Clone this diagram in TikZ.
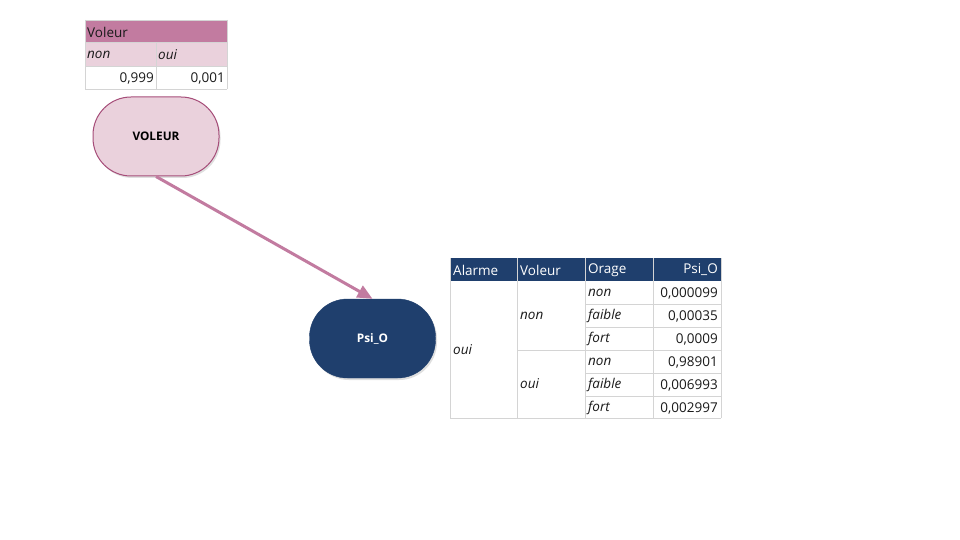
\documentclass[tikz,border=0pt]{standalone}
\usepackage{fontspec}
\setmainfont{Open Sans}
\usetikzlibrary{arrows.meta,shadows}
\definecolor{pinkhead}{HTML}{C27BA0}
\definecolor{pinklight}{HTML}{EAD1DC}
\definecolor{pinkborder}{HTML}{A64D79}
\definecolor{darkblue}{HTML}{1F3F6D}
\definecolor{gridgray}{HTML}{D4D4D4}
\definecolor{txt}{HTML}{1A1A1A}
\tikzset{
  cell/.style={text=txt,font=\fontsize{13.5}{15}\selectfont,inner sep=0pt},
  cellR/.style={cell,anchor=east},
  cellL/.style={cell,anchor=west},
  hcell/.style={cell,text=white},
  grid/.style={draw=gridgray,line width=0.8pt},
  bnode/.style={minimum width=126pt,minimum height=79pt,rounded corners=38pt,
    font=\fontsize{11.8}{13}\selectfont\bfseries,
    drop shadow={shadow xshift=1.5pt,shadow yshift=-2pt,opacity=0.25}},
}
\begin{document}
\begin{tikzpicture}[x=1pt,y=-1pt]
\useasboundingbox (0,0) rectangle (960,540);
\fill[white] (0,0) rectangle (960,540);
% ---- Voleur table ----
\fill[pinkhead] (85,20) rectangle (227,42);
\fill[pinklight] (85,42) rectangle (227,66);
\draw[grid] (85,20) -- (227,20);
\draw[grid] (85,42) -- (227,42);
\draw[grid] (85,66) -- (227,66);
\draw[grid] (85,89) -- (227,89);
\draw[grid] (85,20) -- (85,89);
\draw[grid] (227,20) -- (227,89);
\draw[grid] (156,42) -- (156,89);
\node[cellL] (vh) at (87,32) {Voleur};
\node[cellL] (vnon) at (87,55) {\itshape non};
\node[cellL] (voui) at (158,55) {\itshape oui};
\node[cellR] (v1) at (154,78) {0,999};
\node[cellR] (v2) at (225,78) {0,001};
% ---- nodes ----
\node[bnode,fill=pinklight,draw=pinkborder,line width=1pt,text=black] (v) at (156,136.5) {VOLEUR};
\node[bnode,fill=darkblue,draw=darkblue,text=white] (p) at (372.5,338.5) {Psi\_O};
\draw[pinkhead,line width=3pt,-{Triangle[length=15pt,width=13pt]}] (v.south) -- (p.north);
% ---- Psi_O table ----
\fill[darkblue] (450,258) rectangle (721,281);
\draw[grid] (517,258) -- (517,418);
\draw[grid] (585,258) -- (585,418);
\draw[grid] (653,258) -- (653,418);
\draw[grid] (450,258) -- (450,418);
\draw[grid] (721,258) -- (721,418);
\draw[grid] (450,418) -- (721,418);
\draw[grid] (517,350) -- (721,350);
\foreach \y in {304,327,373,396} \draw[grid] (585,\y) -- (721,\y);
\node[hcell,anchor=west] (h1) at (453,270) {Alarme};
\node[hcell,anchor=west] (h2) at (520,270) {Voleur};
\node[hcell,anchor=west] (h3) at (588,270) {Orage};
\node[hcell,anchor=east] (h4) at (718,270) {Psi\_O};
\node[cellL] (a1) at (453,350) {\itshape oui};
\node[cellL] (b1) at (520,316) {\itshape non};
\node[cellL] (b2) at (520,384) {\itshape oui};
\node[cellL] (o1) at (588,293) {\itshape non};
\node[cellL] (o2) at (588,316) {\itshape faible};
\node[cellL] (o3) at (588,339) {\itshape fort};
\node[cellL] (o4) at (588,362) {\itshape non};
\node[cellL] (o5) at (588,385) {\itshape faible};
\node[cellL] (o6) at (588,408) {\itshape fort};
\node[cellR] (n1) at (718,293) {0,000099};
\node[cellR] (n2) at (718,316) {0,00035};
\node[cellR] (n3) at (718,339) {0,0009};
\node[cellR] (n4) at (718,362) {0,98901};
\node[cellR] (n5) at (718,385) {0,006993};
\node[cellR] (n6) at (718,408) {0,002997};
\end{tikzpicture}
\end{document}
